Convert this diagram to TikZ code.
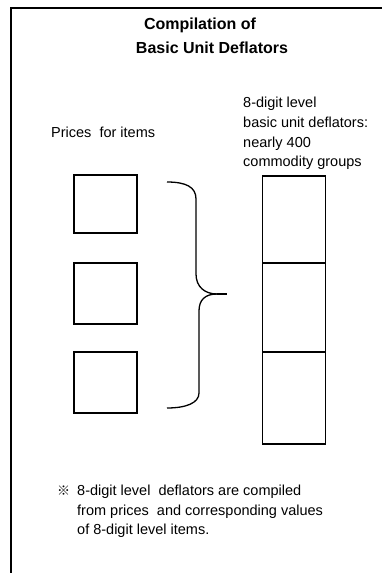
\documentclass[tikz,border=0pt]{standalone}
\usepackage{fontspec}
\setmainfont{Liberation Sans}
\newfontfamily\cjk{Noto Sans CJK JP}
\begin{document}
\begin{tikzpicture}[x=1pt,y=-1pt,
  box/.style={draw,line width=1.3pt,inner sep=0pt,minimum width=63pt},
  txt/.style={anchor=base west,inner sep=0pt,font=\fontsize{14.5}{18}\selectfont},
  ttl/.style={anchor=base,inner sep=0pt,font=\fontsize{16}{20}\selectfont\bfseries},
  frame/.style={line width=1.8pt},
  brace/.style={line width=1.3pt}]
\useasboundingbox (0,0) rectangle (381,573);
\fill[white] (0,0) rectangle (381,573);
% frame (left and top edges visible)
\draw[frame] (390,8) -- (11,8) -- (11,580);
% title
\node[ttl] (t1) at (200,29) {Compilation of};
\node[ttl] (t2) at (212,53) {Basic Unit Deflators};
% right header
\node[txt] (h1) at (243,107) {8-digit level};
\node[txt] (h2) at (243,127) {basic unit deflators:};
\node[txt] (h3) at (243,147) {nearly 400};
\node[txt] (h4) at (243,166) {commodity groups};
% left header
\node[txt] (p) at (51,137) {Prices\ \ for items};
% item boxes
\node[box,minimum height=58pt] (i1) at (105.5,204) {};
\node[box,minimum height=61pt] (i2) at (105.5,293.5) {};
\node[box,minimum height=61pt] (i3) at (105.5,382.5) {};
% group column
\node[box,minimum height=87pt] (g1) at (294,219.5) {};
\node[box,minimum height=89pt] (g2) at (294,307.5) {};
\node[box,minimum height=92pt] (g3) at (294,398) {};
% brace
\coordinate (btop) at (167,182);
\coordinate (btip) at (217,294);
\coordinate (bbot) at (167,408);
\draw[brace] (btop) .. controls (186,182) and (196,187) .. (196,199) -- (196,274)
  .. controls (196,287) and (205,294) .. (btip);
\draw[brace] (btip) .. controls (205,294) and (199,300) .. (199,311) -- (199,393)
  .. controls (199,403) and (186,408) .. (bbot);
\draw[line width=2.2pt] (btip) -- (227,294);
% footnote
\node[anchor=base west,inner sep=0pt,font=\fontsize{13}{16}\cjk] (fm) at (57,495) {※};
\node[txt] (f1) at (77,495) {8-digit level\ \ deflators are compiled};
\node[txt] (f2) at (77,515) {from prices\ \ and corresponding values};
\node[txt] (f3) at (77,534) {of 8-digit level items.};
\end{tikzpicture}
\end{document}
